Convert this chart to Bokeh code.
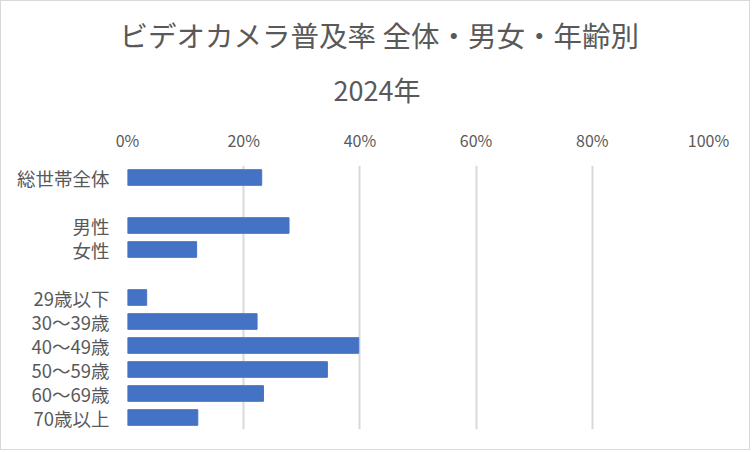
from bokeh.plotting import figure
from bokeh.models import FixedTicker, NumeralTickFormatter, Title, FactorRange, ColumnDataSource
from bokeh.embed import file_html
from bokeh.resources import INLINE

title_line1 = "ビデオカメラ普及率 全体・男女・年齢別"
title_line2 = "2024年"

categories = ["総世帯全体", " ", "男性", "女性", "  ", "29歳以下", "30～39歳", "40～49歳", "50～59歳", "60～69歳", "70歳以上"]
values = [0.231, None, 0.278, 0.119, None, 0.033, 0.223, 0.398, 0.344, 0.234, 0.121]
x_ticks = [0, 0.2, 0.4, 0.6, 0.8, 1.0]

FONT = "Noto Sans CJK JP"
GRAY = "#595959"

bar_cats = [c for c, v in zip(categories, values) if v is not None]
bar_vals = [v for v in values if v is not None]
src = ColumnDataSource(dict(cat=bar_cats, val=bar_vals))

p = figure(width=750, height=450, output_backend="svg", toolbar_location=None,
           x_range=(0, 1), y_range=FactorRange(factors=list(reversed(categories))),
           x_axis_location="above")
p.min_border_left = 126
p.min_border_right = 43
p.min_border_top = 164
p.min_border_bottom = 22
p.styles = {"border": "1px solid #d9d9d9"}
p.outline_line_color = None
p.background_fill_color = "white"
p.border_fill_color = "white"

p.hbar(y="cat", right="val", left=0, height=0.65, source=src, color="#4472C4")

xa = p.xaxis[0]
xa.ticker = FixedTicker(ticks=x_ticks)
xa.formatter = NumeralTickFormatter(format="0%")
xa.axis_line_color = None
xa.major_tick_line_color = None
xa.minor_tick_line_color = None
xa.major_tick_out = 0
xa.major_tick_in = 0
xa.minor_tick_out = 0
xa.major_label_text_font = FONT
xa.major_label_text_font_size = "16px"
xa.major_label_text_color = GRAY
xa.major_label_standoff = 14

ya = p.yaxis[0]
ya.axis_line_color = None
ya.major_tick_line_color = None
ya.minor_tick_line_color = None
ya.major_tick_out = 0
ya.major_tick_in = 0
ya.major_label_text_font = FONT
ya.major_label_text_font_size = "18.5px"
ya.major_label_text_color = GRAY
ya.major_label_standoff = 18

p.xgrid.grid_line_color = "#d9d9d9"
p.xgrid.grid_line_width = 2
p.xgrid.ticker = FixedTicker(ticks=x_ticks)
p.ygrid.grid_line_color = None

p.add_layout(Title(text=title_line2, align="left", offset=206, text_font=FONT, text_font_size="27px",
                   text_font_style="normal", text_color=GRAY, standoff=32), "above")
p.title.text = title_line1
p.title.align = "left"
p.title.offset = -8
p.title.text_font = FONT
p.title.text_font_size = "28.5px"
p.title.text_font_style = "normal"
p.title.text_color = GRAY
p.title.standoff = -6

open("out.html", "w").write(file_html(p, INLINE))
